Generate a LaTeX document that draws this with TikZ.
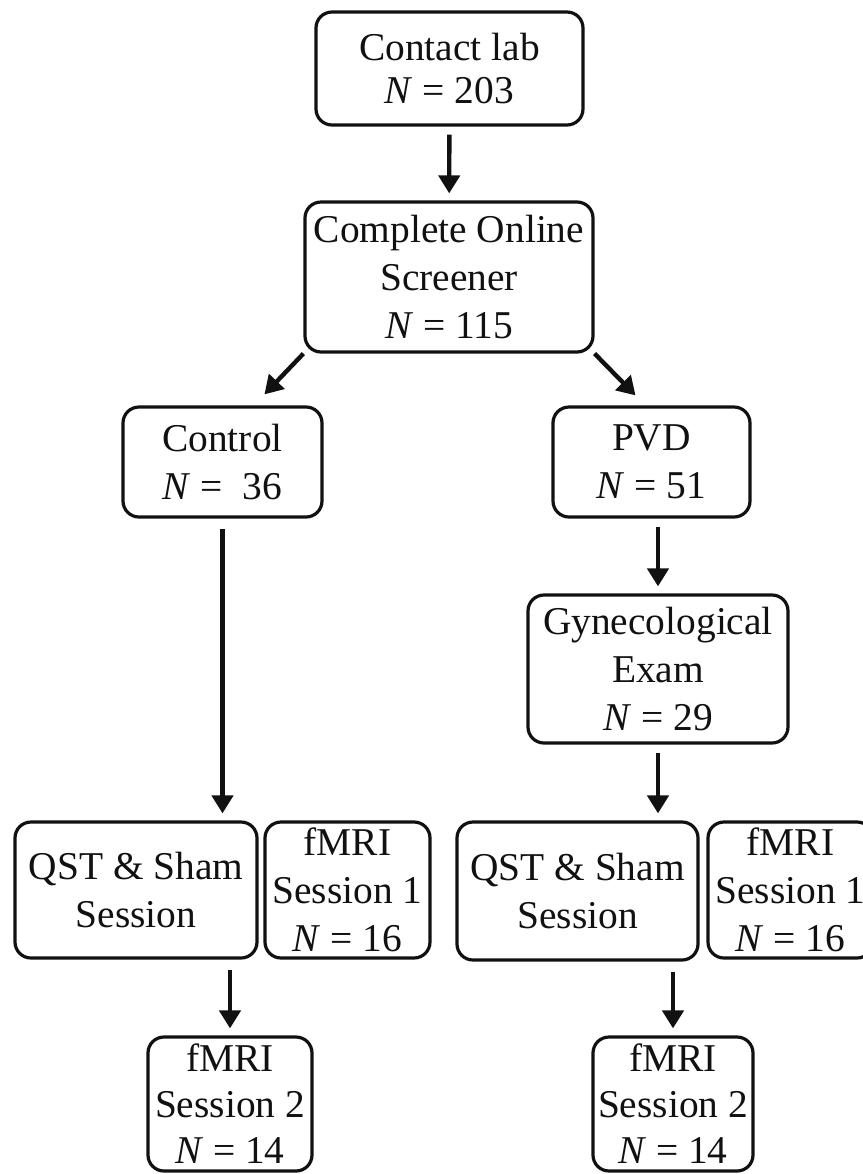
\documentclass[tikz,border=0pt]{standalone}
\usepackage{fontspec}
\setmainfont{Liberation Serif}
\usepackage{tikz}
\usetikzlibrary{arrows.meta,calc}
\definecolor{ink}{HTML}{111111}

\begin{document}
\begin{tikzpicture}[x=0.5pt, y=-0.5pt,
  stage/.style={draw=ink, line width=1.6pt, rounded corners=8pt, align=center, inner sep=0pt,
    text=ink, font=\fontsize{19.7}{24}\selectfont},
  flow/.style={draw=ink, line width=2.2pt, -{Triangle[width=10.5pt,length=9pt]},
    shorten <=4pt, shorten >=3.5pt}]
  \useasboundingbox[fill=white] (0,0) rectangle (863,1174);
  % recruitment and screening
  \node[stage, minimum width=133.5pt, minimum height=56.5pt, font=\fontsize{19.7}{21.5}\selectfont]
    (contact) at (449.5,68.5) {Contact lab\\\textit{N} = 203};
  \node[stage, minimum width=144pt, minimum height=75pt] (screener) at (449,277)
    {Complete Online\\Screener\\\textit{N} = 115};
  % groups
  \node[stage, minimum width=99.5pt, minimum height=55pt] (control) at (222.5,462)
    {Control\\\textit{N} = \ 36};
  \node[stage, minimum width=98.5pt, minimum height=55pt] (pvd) at (651.5,462)
    {PVD\\\textit{N} = 51};
  \node[stage, minimum width=130pt, minimum height=74pt] (gyn) at (658,669)
    {Gynecological\\Exam\\\textit{N} = 29};
  % sessions, control side
  \node[stage, minimum width=121pt, minimum height=68pt] (qstL) at (136,890)
    {QST \& Sham\\Session};
  \node[stage, minimum width=82.5pt, minimum height=68pt] (fmriIL) at (347.5,890)
    {fMRI\\Session 1\\\textit{N} = 16};
  \node[stage, minimum width=82pt, minimum height=67pt, font=\fontsize{19.7}{23}\selectfont]
    (fmriIIL) at (230,1104) {fMRI\\Session 2\\\textit{N} = 14};
  % sessions, PVD side
  \node[stage, minimum width=120.5pt, minimum height=69pt] (qstR) at (577.5,891)
    {QST \& Sham\\Session};
  \node[stage, minimum width=82.5pt, minimum height=68pt] (fmriIR) at (790.5,890)
    {fMRI\\Session 1\\\textit{N} = 16};
  \node[stage, minimum width=80pt, minimum height=67pt, font=\fontsize{19.7}{23}\selectfont]
    (fmriIIR) at (673,1104) {fMRI\\Session 2\\\textit{N} = 14};
  % arrows
  \draw[flow] (contact) -- (screener);
  \draw[flow, shorten <=0pt] (screener.south west) -- ($(control.north east)+(-64,-6)$);
  \draw[flow, shorten <=0pt] (screener.south east) -- ($(pvd.north west)+(89,-5)$);
  \draw[flow, shorten <=5pt] (control) -- (control |- qstL.north);
  \draw[flow] (gyn |- pvd.south) -- (gyn.north);
  \draw[flow] (gyn) -- (gyn |- qstR.north);
  \draw[flow, shorten <=5pt] (fmriIIL |- qstL.south) -- (fmriIIL.north);
  \draw[flow, shorten <=5pt] (fmriIIR |- qstR.south) -- (fmriIIR.north);
\end{tikzpicture}
\end{document}
